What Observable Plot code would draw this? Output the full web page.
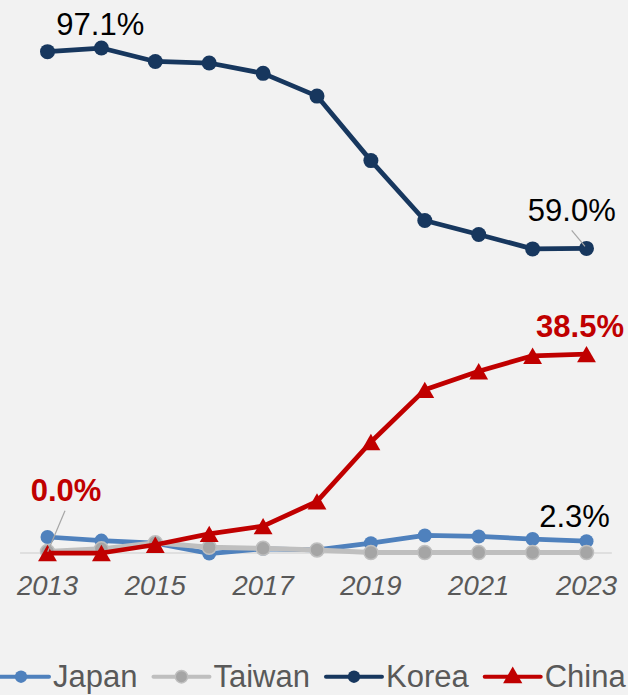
<!DOCTYPE html>
<html>
<head>
<meta charset="utf-8">
<script src="https://cdn.jsdelivr.net/npm/d3@7"></script>
<script src="https://cdn.jsdelivr.net/npm/@observablehq/plot@0.6"></script>
<style>
  html, body { margin: 0; padding: 0; background: #f2f2f2; }
  #wrap { position: relative; width: 628px; height: 695px; overflow: hidden; background: #f2f2f2;
          font-family: "Liberation Sans", Arial, sans-serif; }
  #chart { position: absolute; left: 0; top: 0; }
  #legend { position: absolute; left: 0; top: 640px; width: 628px; height: 55px; overflow: visible; }
</style>
</head>
<body>
<div id="wrap">
  <div id="chart"></div>
  <svg id="legend" width="628" height="55"></svg>
</div>
<script>
// ---- data (share, %) ----
const years = [2013, 2014, 2015, 2016, 2017, 2018, 2019, 2020, 2021, 2022, 2023];
const tickYears = [2013, 2015, 2017, 2019, 2021, 2023];
const seriesNames = ["Japan", "Taiwan", "Korea", "China"];
const japan  = [3.1, 2.4, 1.9, -0.1, 0.8, 0.6, 1.9, 3.4, 3.2, 2.7, 2.3];
const taiwan = [0.3, 0.8, 2.0, 1.1, 0.9, 0.6, 0.1, 0.1, 0.1, 0.1, 0.1];
const korea  = [97.1, 97.8, 95.2, 94.9, 92.9, 88.5, 76.0, 64.4, 61.7, 58.9, 59.0];
const china  = [0.0, 0.0, 1.6, 3.7, 5.2, 10.0, 21.5, 31.6, 35.2, 38.2, 38.5];

const seriesValues = { Japan: japan, Taiwan: taiwan, Korea: korea, China: china };
const rows = seriesNames.flatMap(name =>
  seriesValues[name].map((v, i) => ({ series: name, year: years[i], value: v })));

// ---- styles ----
const FONT = '"Liberation Sans", Arial, sans-serif';
const style = {
  Japan:  { line: "#4f81bd", fill: "#4f81bd", stroke: "none",    r: 7,   width: 4.75, symbol: "circle" },
  Taiwan: { line: "#bfbfbf", fill: "#a5a5a5", stroke: "#bfbfbf", r: 7,   width: 5,    symbol: "circle" },
  Korea:  { line: "#17375e", fill: "#17375e", stroke: "none",    r: 7.5, width: 4.75, symbol: "circle" },
  China:  { line: "#c00000", fill: "#c00000", stroke: "none",    r: 7,   width: 4.75, symbol: "triangle" }
};

const fmt = v => v.toFixed(1) + "%";
const first = name => d => d.series === name && d.year === years[0];
const last = name => d => d.series === name && d.year === years[years.length - 1];

const seriesMarks = seriesNames.flatMap(name => {
  const s = style[name];
  const data = rows.filter(d => d.series === name);
  return [
    Plot.lineY(data, { x: "year", y: "value", stroke: s.line, strokeWidth: s.width,
                       strokeLinejoin: "round", strokeLinecap: "round" }),
    Plot.dot(data, { x: "year", y: "value", r: s.r, symbol: s.symbol, fill: s.fill,
                     stroke: s.stroke, strokeWidth: 1.5, dy: s.symbol === "triangle" ? 2.7 : 0 })
  ];
});

const labelBase = { x: "year", y: "value", text: d => fmt(d.value), lineAnchor: "bottom",
                    textAnchor: "middle", fontSize: 31, fontFamily: FONT };

const chart = Plot.plot({
  width: 628,
  height: 640,
  marginLeft: 47,
  marginRight: 42,
  marginTop: 36.2,
  marginBottom: 87.5,
  x: { domain: [2013, 2023], axis: null },
  y: { domain: [0, 100], axis: null },
  style: { background: "transparent", fontFamily: FONT, overflow: "visible" },
  marks: [
    Plot.ruleY([0], { x1: 2012.5, x2: 2023.48, stroke: "#d9d9d9", strokeWidth: 1.5 }),
    Plot.text(tickYears, { x: d => d, text: d => String(d), frameAnchor: "bottom", dy: 41.5,
                           lineAnchor: "bottom", fontSize: 27.5, fontStyle: "italic",
                           fill: "#595959", fontFamily: FONT }),
    ...seriesMarks,
    Plot.text(rows, { ...labelBase, filter: first("Korea"), dx: 52.8, dy: -16.7, fill: "#000" }),
    Plot.text(rows, { ...labelBase, filter: last("Korea"), dx: -14.7, dy: -27.6, fill: "#000" }),
    Plot.text(rows, { ...labelBase, filter: last("China"), dx: -6.5, dy: -17, fill: "#c00000", fontWeight: "bold" }),
    Plot.text(rows, { ...labelBase, filter: first("China"), dx: 18.5, dy: -52.5, fill: "#c00000", fontWeight: "bold" }),
    Plot.text(rows, { ...labelBase, filter: last("Japan"), dx: -12, dy: -14, fill: "#000" })
  ]
});
document.getElementById("chart").appendChild(chart);

// leader lines (positions via the plot's own scales)
const X = chart.scale("x"), Y = chart.scale("y");
const svg = d3.select(chart);
function leader(year, value, ax, ay, bx, by) {
  const px = X.apply(year), py = Y.apply(value);
  svg.append("line")
    .attr("x1", px + ax).attr("y1", py + ay)
    .attr("x2", px + bx).attr("y2", py + by)
    .attr("stroke", "#a6a6a6").attr("stroke-width", 1.2);
}
leader(years[0], china[0], 0.7, -0.8, 18, -41.8);
leader(years[years.length - 1], korea[korea.length - 1], -1, -1.6, -14.3, -17.6);

// ---- legend ----
const leg = d3.select("#legend");
const symLen = 56, symGap = 4, itemGap = 16, lineY = 36.7, textY = 46.7;
let cx = -7;
seriesNames.forEach(name => {
  const s = style[name];
  const g = leg.append("g");
  g.append("line").attr("x1", cx).attr("x2", cx + symLen).attr("y1", lineY).attr("y2", lineY)
    .attr("stroke", s.line).attr("stroke-width", 4).attr("stroke-linecap", "round");
  const mx = cx + symLen / 2;
  if (s.symbol === "triangle") {
    g.append("path").attr("d", d3.symbol(d3.symbolTriangle, 160)())
      .attr("transform", `translate(${mx},${lineY + 1})`).attr("fill", s.fill);
  } else {
    g.append("circle").attr("cx", mx).attr("cy", lineY).attr("r", 6.2)
      .attr("fill", s.fill).attr("stroke", s.stroke === "none" ? null : s.stroke).attr("stroke-width", 1.5);
  }
  const t = g.append("text").attr("x", cx + symLen + symGap).attr("y", textY)
    .attr("font-family", FONT).attr("font-size", 31).attr("fill", "#595959").text(name);
  cx += symLen + symGap + t.node().getComputedTextLength() + itemGap;
});
</script>
</body>
</html>
